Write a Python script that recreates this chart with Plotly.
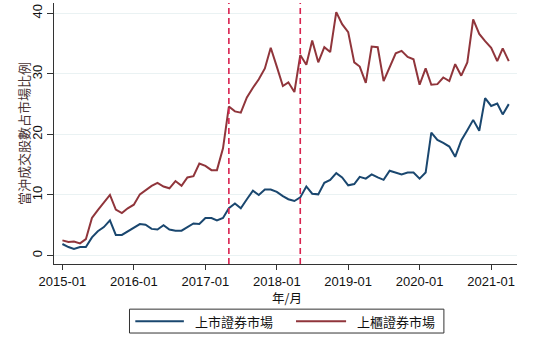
import plotly.graph_objects as go
import pandas as pd

months = pd.date_range("2015-01-01", "2021-04-01", freq="MS").strftime("%Y-%m-%d").tolist()

listed = [1.9, 1.4, 1.1, 1.4, 1.4, 3.0, 4.0, 4.7, 5.8, 3.4, 3.4, 4.0, 4.5, 5.2, 5.1, 4.4, 4.3, 5.0,
          4.3, 4.1, 4.1, 4.7, 5.3, 5.2, 6.2, 6.2, 5.8, 6.2, 7.8, 8.6, 7.8, 9.3, 10.7, 10.0, 10.9, 10.9,
          10.5, 9.8, 9.3, 9.0, 9.6, 11.4, 10.2, 10.1, 12.0, 12.5, 13.6, 12.9, 11.6, 11.8, 13.0, 12.7,
          13.4, 12.9, 12.5, 14.0, 13.7, 13.4, 13.7, 13.7, 12.7, 13.7, 20.3, 19.1, 18.6, 18.0, 16.3,
          19.0, 20.7, 22.4, 20.6, 26.0, 24.7, 25.1, 23.3, 25.0]

otc = [2.5, 2.25, 2.3, 2.0, 2.7, 6.2, 7.5, 8.7, 10.0, 7.6, 7.0, 7.8, 8.4, 10.1, 10.8, 11.5, 12.0, 11.4,
       11.1, 12.3, 11.5, 12.9, 13.1, 15.2, 14.8, 14.1, 14.1, 17.7, 24.6, 23.8, 23.6, 26.1, 27.7, 29.1,
       30.9, 34.3, 31.2, 28.0, 28.6, 27.0, 33.1, 31.5, 35.5, 31.9, 34.4, 33.6, 40.2, 38.2, 36.9, 31.9,
       31.2, 28.5, 34.5, 34.4, 28.8, 31.2, 33.4, 33.8, 32.8, 32.4, 28.2, 30.9, 28.2, 28.3, 29.4, 28.8,
       31.6, 29.7, 31.9, 39.0, 36.6, 35.4, 34.3, 32.1, 34.2, 32.1]

series_names = ["上市證券市場", "上櫃證券市場"]
series_colors = ["#1a476f", "#90353b"]
event_dates = ["2017-05-01", "2018-05-01"]
tick_dates = ["2015-01-01", "2016-01-01", "2017-01-01", "2018-01-01", "2019-01-01", "2020-01-01", "2021-01-01"]
tick_labels = ["2015-01", "2016-01", "2017-01", "2018-01", "2019-01", "2020-01", "2021-01"]
y_ticks = [0, 10, 20, 30, 40]

W, H = 533, 353
L, R, T, B = 54.3, 516.7, 3.0, 264.3

def px(x):
    return (x - L) / (R - L)

def py(y):
    return (B - y) / (B - T)

latin = "Liberation Sans, Arial, sans-serif"
cjk = "Noto Sans CJK TC, Noto Sans CJK SC, sans-serif"

fig = go.Figure()
for name, vals, col in zip(series_names, [listed, otc], series_colors):
    fig.add_trace(go.Scatter(x=months, y=vals, mode="lines", name=name,
                             line=dict(color=col, width=2), showlegend=False))

shapes = []
for d in event_dates:
    shapes.append(dict(type="line", xref="x", yref="paper", x0=d, x1=d, y0=0, y1=1,
                       line=dict(color="#d9214f", width=1.6, dash="6px,4px")))

# legend box
shapes.append(dict(type="rect", xref="paper", yref="paper", x0=px(129.7), x1=px(443.7),
                   y0=py(309.5), y1=py(333.4), line=dict(color="#333333", width=1),
                   fillcolor="white"))
annotations = []
legend_lines = [(135.5, 184.0, 193.0), (296.0, 346.0, 355.0)]
for (lx0, lx1, tx), name, col in zip(legend_lines, series_names, series_colors):
    shapes.append(dict(type="line", xref="paper", yref="paper", x0=px(lx0), x1=px(lx1),
                       y0=py(321.5), y1=py(321.5), line=dict(color=col, width=2)))
    annotations.append(dict(text=name, xref="paper", yref="paper", x=px(tx), y=py(321.5),
                            xanchor="left", yanchor="middle", showarrow=False,
                            font=dict(family=cjk, size=13, color="#111111")))

annotations.append(dict(text="年/月", xref="paper", yref="paper", x=px(286.7), y=py(298.0),
                        xanchor="center", yanchor="middle", showarrow=False,
                        font=dict(family=cjk, size=12.5, color="#111111")))
annotations.append(dict(text="當沖成交股數占市場比例", xref="paper", yref="paper", x=px(24), y=py(133.5),
                        xanchor="center", yanchor="middle", showarrow=False, textangle=-90,
                        font=dict(family=cjk, size=13, color="#4a3535")))

fig.update_layout(
    width=W, height=H,
    margin=dict(l=L, r=W - R, t=T, b=H - B, pad=0),
    paper_bgcolor="white", plot_bgcolor="white",
    shapes=shapes, annotations=annotations,
    xaxis=dict(type="date", range=["2014-11-19", "2021-05-13"], tickvals=tick_dates,
               ticktext=tick_labels, ticks="outside", ticklen=5, tickcolor="#333333",
               showline=True, linecolor="#333333", linewidth=1, showgrid=False, zeroline=False,
               tickfont=dict(family=latin, size=13, color="#111111")),
    yaxis=dict(range=[-1.4, 41.7], tickvals=y_ticks, ticks="outside", ticklen=6, tickcolor="#333333",
               tickangle=-90, showline=True, linecolor="#333333", linewidth=1,
               showgrid=True, gridcolor="#eaf2f3", gridwidth=1, zeroline=False,
               tickfont=dict(family=latin, size=13, color="#111111")),
)

fig.write_html("out.html")
